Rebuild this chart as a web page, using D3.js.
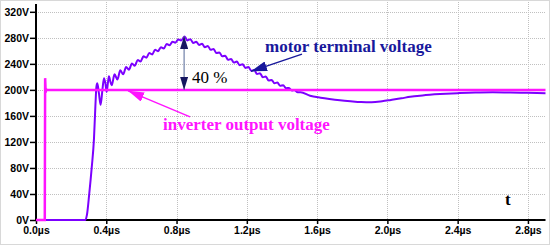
<!DOCTYPE html>
<html>
<head>
<meta charset="utf-8">
<script src="https://cdn.jsdelivr.net/npm/d3@7"></script>
<style>
  html, body { margin: 0; padding: 0; background: #fff; }
  svg { display: block; }
</style>
</head>
<body>
<div id="chart"></div>
<script>
// motor terminal vs inverter output

const xTicks = [0.0, 0.4, 0.8, 1.2, 1.6, 2.0, 2.4, 2.8];
const xTickLabels = ["0.0µs", "0.4µs", "0.8µs", "1.2µs", "1.6µs", "2.0µs", "2.4µs", "2.8µs"];
const yTicks = [0, 40, 80, 120, 160, 200, 240, 280, 320];
const yTickLabels = ["0V", "40V", "80V", "120V", "160V", "200V", "240V", "280V", "320V"];

// [t in µs, volts]
const inverterVoltage = [
  [0, 0], [0.05, 0], [0.052, 218], [0.055, 196], [0.058, 201], [0.062, 200], [2.9, 200]
];

const motorVoltage = [
  [0, 0], [0.279, 0], [0.29, 8], [0.303, 40], [0.317, 80], [0.33, 125], [0.338, 175],
  [0.344, 205], [0.349, 210], [0.358, 195], [0.368, 177], [0.378, 200], [0.387, 218],
  [0.395, 210], [0.402, 197], [0.409, 210], [0.415, 221], [0.423, 213], [0.431, 207],
  [0.447, 224], [0.463, 216], [0.48, 230], [0.496, 224], [0.513, 235], [0.529, 231],
  [0.546, 240.5], [0.562, 237], [0.579, 246], [0.595, 243.5], [0.612, 251.5], [0.628, 249.5],
  [0.645, 256.5], [0.661, 254.5], [0.678, 261.5], [0.694, 259.5], [0.711, 265.5], [0.727, 263.5],
  [0.744, 270.5], [0.76, 268.5], [0.777, 274], [0.793, 272.5], [0.81, 277.5], [0.826, 276],
  [0.846, 282], [0.862, 276], [0.879, 278], [0.895, 272], [0.912, 274], [0.928, 269],
  [0.945, 271], [0.961, 265.5], [0.978, 267.5], [0.994, 261.5], [1.011, 262.8], [1.027, 256.5],
  [1.044, 257.5], [1.06, 251.5], [1.077, 252.5], [1.093, 246.3], [1.11, 247.6], [1.126, 242],
  [1.143, 243.6], [1.159, 238], [1.176, 239.4], [1.192, 233.8], [1.209, 235.2], [1.225, 229.5],
  [1.242, 230.6], [1.258, 224.5], [1.275, 225.5], [1.291, 219.5], [1.308, 220.5], [1.324, 214.5],
  [1.341, 215.3], [1.357, 210.2], [1.374, 211.3], [1.39, 206.3], [1.407, 207.2], [1.423, 202.6],
  [1.44, 203], [1.456, 199], [1.473, 199.5], [1.489, 196.3], [1.506, 196.3],
  [1.56, 191], [1.62, 188], [1.67, 186], [1.73, 184], [1.79, 182.5], [1.85, 181.3], [1.91, 181],
  [1.97, 182.5], [2.02, 184.5], [2.08, 187], [2.13, 189.5], [2.2, 191.5], [2.3, 193.5],
  [2.4, 195], [2.5, 196], [2.6, 196.2], [2.7, 196], [2.8, 195.5], [2.9, 195]
];

// annotation anchors, in data units
const peakArrow = { t: 0.843, top: 283, bottom: 200 };
const motorArrow = { from: [1.514, 255], to: [1.224, 228.5] };
const inverterArrow = { from: [0.877, 158.5], to: [0.524, 198.5] };

const W = 550, H = 245;
const navy = "#18189c";
const magenta = "#ff14ff";
const purple = "#7c00ff";

const svg = d3.select("#chart").append("svg")
  .attr("width", W)
  .attr("height", H)
  .style("font-family", "'Liberation Sans', Arial, sans-serif");

// arrowheads
const defs = svg.append("defs");
function marker(id, color, len, wid) {
  defs.append("marker")
    .attr("id", id)
    .attr("viewBox", `0 0 ${len} ${wid}`)
    .attr("refX", len)
    .attr("refY", wid / 2)
    .attr("markerWidth", len)
    .attr("markerHeight", wid)
    .attr("markerUnits", "userSpaceOnUse")
    .attr("orient", "auto-start-reverse")
    .append("path")
    .attr("d", `M0,0L${len},${wid / 2}L0,${wid}Z`)
    .attr("fill", color);
}
marker("headNavy", navy, 16, 10);
marker("headDark", "#161660", 13, 8);
marker("headPink", magenta, 16, 10);

const x = d3.scaleLinear().domain([0, 2.9]).range([36, 545.5]);
const y = d3.scaleLinear().domain([0, 332]).range([220, 4]);

// dotted grid
const grid = svg.append("g")
  .attr("stroke", "#c0c0c0")
  .attr("stroke-width", 1)
  .attr("stroke-dasharray", "1,1");

grid.selectAll("line.h")
  .data(yTicks.filter(d => d > 0))
  .join("line")
  .attr("class", "h")
  .attr("x1", x(0)).attr("x2", x(2.9))
  .attr("y1", d => Math.round(y(d)) + 0.5)
  .attr("y2", d => Math.round(y(d)) + 0.5);

grid.selectAll("line.v")
  .data(xTicks.filter(d => d > 0))
  .join("line")
  .attr("class", "v")
  .attr("x1", d => Math.round(x(d)) + 0.5)
  .attr("x2", d => Math.round(x(d)) + 0.5)
  .attr("y1", 0).attr("y2", y(0));

// axes
const yAxis = d3.axisLeft(y)
  .tickValues(yTicks)
  .tickFormat((d, i) => yTickLabels[i])
  .tickSize(6)
  .tickPadding(1);

const xAxis = d3.axisBottom(x)
  .tickValues(xTicks)
  .tickFormat((d, i) => xTickLabels[i])
  .tickSize(4)
  .tickPadding(3);

const gy = svg.append("g")
  .attr("transform", `translate(${x(0)},0)`)
  .call(yAxis);

const gx = svg.append("g")
  .attr("transform", `translate(0,${y(0)})`)
  .call(xAxis);

[gx, gy].forEach(g => {
  g.select(".domain").remove();
  g.selectAll(".tick line").attr("stroke", "#000").attr("stroke-width", 1.5);
  g.selectAll(".tick text")
    .attr("fill", "#000")
    .attr("font-size", 10.5)
    .attr("font-weight", 700);
});

// thick axis lines
svg.append("line")
  .attr("x1", x(0)).attr("x2", x(0))
  .attr("y1", 4).attr("y2", y(0) + 1)
  .attr("stroke", "#000").attr("stroke-width", 2);
svg.append("line")
  .attr("x1", x(0) - 1).attr("x2", x(2.9))
  .attr("y1", y(0)).attr("y2", y(0))
  .attr("stroke", "#000").attr("stroke-width", 2);

// curves
const line = d3.line()
  .x(d => x(d[0]))
  .y(d => y(d[1]))
  .curve(d3.curveMonotoneX);

svg.append("path")
  .datum(motorVoltage)
  .attr("fill", "none")
  .attr("stroke", purple)
  .attr("stroke-width", 2)
  .attr("stroke-linejoin", "round")
  .attr("d", line);

svg.append("path")
  .datum(inverterVoltage)
  .attr("fill", "none")
  .attr("stroke", magenta)
  .attr("stroke-width", 2.5)
  .attr("d", d3.line().x(d => x(d[0])).y(d => y(d[1])));

// 40 % double arrow
svg.append("line")
  .attr("x1", x(peakArrow.t)).attr("x2", x(peakArrow.t))
  .attr("y1", y(peakArrow.top)).attr("y2", y(peakArrow.bottom))
  .attr("stroke", "#7080a8")
  .attr("stroke-width", 1.2)
  .attr("marker-start", "url(#headDark)")
  .attr("marker-end", "url(#headDark)");

svg.append("text")
  .attr("x", x(peakArrow.t) + 8)
  .attr("y", 83)
  .attr("font-family", "'Liberation Serif', 'Times New Roman', serif")
  .attr("font-size", 17)
  .attr("fill", "#000")
  .text("40 %");

// pointer arrows
svg.append("line")
  .attr("x1", x(motorArrow.from[0])).attr("y1", y(motorArrow.from[1]))
  .attr("x2", x(motorArrow.to[0])).attr("y2", y(motorArrow.to[1]))
  .attr("stroke", navy).attr("stroke-width", 1.5)
  .attr("marker-end", "url(#headNavy)");

svg.append("line")
  .attr("x1", x(inverterArrow.from[0])).attr("y1", y(inverterArrow.from[1]))
  .attr("x2", x(inverterArrow.to[0])).attr("y2", y(inverterArrow.to[1]))
  .attr("stroke", magenta).attr("stroke-width", 1.5)
  .attr("marker-end", "url(#headPink)");

// labels
const serif = "'Liberation Serif', 'Times New Roman', serif";

svg.append("text")
  .attr("x", 265).attr("y", 52)
  .attr("font-family", serif).attr("font-size", 17).attr("font-weight", 700)
  .attr("fill", navy)
  .text("motor terminal voltage");

svg.append("text")
  .attr("x", 163).attr("y", 130)
  .attr("font-family", serif).attr("font-size", 17).attr("font-weight", 700)
  .attr("fill", magenta)
  .text("inverter output voltage");

svg.append("text")
  .attr("x", 505).attr("y", 205)
  .attr("font-family", serif).attr("font-size", 17).attr("font-weight", 700)
  .attr("fill", "#000")
  .text("t");

// faint frame around the whole thing
svg.append("rect")
  .attr("x", 0.5).attr("y", 0.5)
  .attr("width", W - 1).attr("height", H - 1)
  .attr("fill", "none")
  .attr("stroke", "#d8d8d8");
</script>
</body>
</html>
